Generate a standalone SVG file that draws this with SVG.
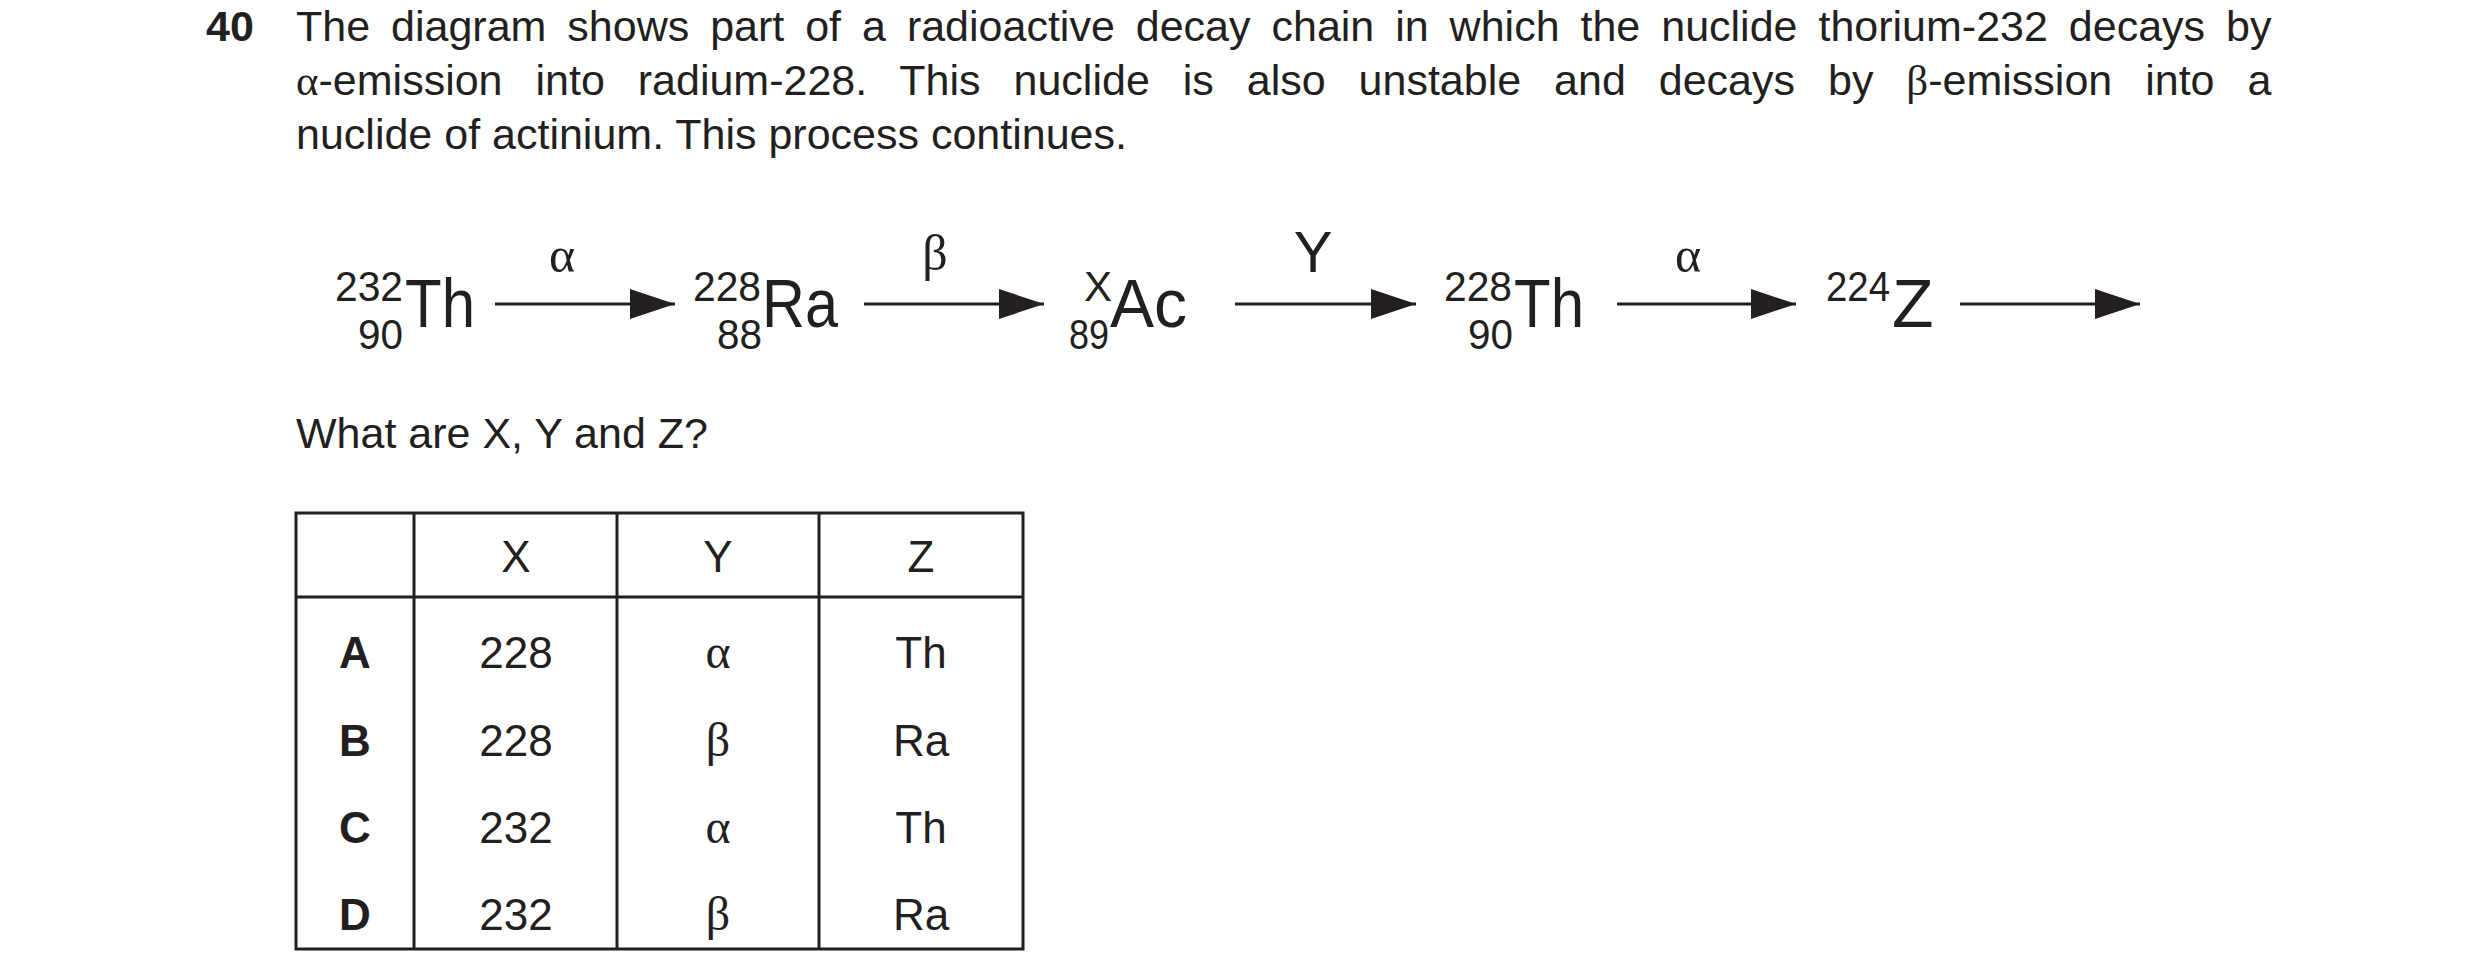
<svg xmlns="http://www.w3.org/2000/svg" width="2480" height="975" viewBox="0 0 2480 975">
<style>
text{font-family:"Liberation Sans",Arial,sans-serif;fill:#231f20}
.q{font-size:43px}
.el{font-size:68px}
.sc{font-size:42px}
.gk{font-family:"Liberation Serif","Times New Roman",serif;font-size:50px}
.g{font-family:"Liberation Serif","Times New Roman",serif}
.lbl{font-size:58px}
.tb{font-size:44px;text-anchor:middle}
.tk{font-family:"Liberation Serif",serif;font-size:48px;text-anchor:middle}
.b{font-weight:bold}
.ln{stroke:#231f20;stroke-width:3;fill:none}
</style>
<defs><marker id="ah" markerWidth="15" markerHeight="10" refX="15" refY="5" orient="auto" markerUnits="strokeWidth"><path d="M0,0L15,5L0,10z" fill="#231f20"/></marker></defs>
<g id="question">
<text class="q b" x="206" y="41">40</text>
<text class="q" x="296" y="41" word-spacing="9">The diagram shows part of a radioactive decay chain in which the nuclide thorium-232 decays by</text>
<text class="q" x="296" y="95" word-spacing="21"><tspan class="g">α</tspan>-emission into radium-228. This nuclide is also unstable and decays by <tspan class="g">β</tspan>-emission into a</text>
<text class="q" x="296" y="149">nuclide of actinium. This process continues.</text>
<text class="q" x="296" y="448">What are X, Y and Z?</text>
</g>
<g id="th232"><text class="sc" x="335" y="301" textLength="68" lengthAdjust="spacingAndGlyphs">232</text><text class="sc" x="358" y="349" textLength="45" lengthAdjust="spacingAndGlyphs">90</text><text class="el" x="405" y="327" textLength="70" lengthAdjust="spacingAndGlyphs">Th</text></g>
<g id="ra228"><text class="sc" x="693" y="301" textLength="68" lengthAdjust="spacingAndGlyphs">228</text><text class="sc" x="717" y="349" textLength="45" lengthAdjust="spacingAndGlyphs">88</text><text class="el" x="762" y="327" textLength="76" lengthAdjust="spacingAndGlyphs">Ra</text></g>
<g id="acx"><text class="sc" x="1098" y="301" text-anchor="middle">X</text><text class="sc" x="1069" y="349" textLength="40" lengthAdjust="spacingAndGlyphs">89</text><text class="el" x="1110" y="327" textLength="77" lengthAdjust="spacingAndGlyphs">Ac</text></g>
<g id="th228"><text class="sc" x="1444" y="301" textLength="68" lengthAdjust="spacingAndGlyphs">228</text><text class="sc" x="1468" y="349" textLength="45" lengthAdjust="spacingAndGlyphs">90</text><text class="el" x="1514" y="327" textLength="70" lengthAdjust="spacingAndGlyphs">Th</text></g>
<g id="z224"><text class="sc" x="1826" y="301" textLength="64" lengthAdjust="spacingAndGlyphs">224</text><text class="el" x="1892" y="327">Z</text></g>
<g id="connectors">
<line class="ln" x1="495" y1="304" x2="675" y2="304" marker-end="url(#ah)"/>
<line class="ln" x1="864" y1="304" x2="1044" y2="304" marker-end="url(#ah)"/>
<line class="ln" x1="1235" y1="304" x2="1416" y2="304" marker-end="url(#ah)"/>
<line class="ln" x1="1617" y1="304" x2="1796" y2="304" marker-end="url(#ah)"/>
<line class="ln" x1="1960" y1="304" x2="2140" y2="304" marker-end="url(#ah)"/>
<text class="gk" x="562" y="272" text-anchor="middle">α</text>
<text class="gk" x="935" y="270" text-anchor="middle">β</text>
<text class="lbl" x="1313" y="272" text-anchor="middle">Y</text>
<text class="gk" x="1688" y="272" text-anchor="middle">α</text>
</g>
<g id="table">
<rect class="ln" x="296" y="513" width="727" height="436"/>
<line class="ln" x1="296" y1="597" x2="1023" y2="597"/>
<line class="ln" x1="414" y1="513" x2="414" y2="949"/>
<line class="ln" x1="617" y1="513" x2="617" y2="949"/>
<line class="ln" x1="819" y1="513" x2="819" y2="949"/>
<text class="tb" x="516" y="572">X</text><text class="tb" x="718" y="572">Y</text><text class="tb" x="921" y="572">Z</text>
<text class="tb b" x="355" y="668">A</text><text class="tb" x="516" y="668">228</text><text class="tk" x="718" y="668">α</text><text class="tb" x="921" y="668">Th</text>
<text class="tb b" x="355" y="756">B</text><text class="tb" x="516" y="756">228</text><text class="tk" x="718" y="756">β</text><text class="tb" x="921" y="756">Ra</text>
<text class="tb b" x="355" y="843">C</text><text class="tb" x="516" y="843">232</text><text class="tk" x="718" y="843">α</text><text class="tb" x="921" y="843">Th</text>
<text class="tb b" x="355" y="930">D</text><text class="tb" x="516" y="930">232</text><text class="tk" x="718" y="930">β</text><text class="tb" x="921" y="930">Ra</text>
</g>
</svg>
